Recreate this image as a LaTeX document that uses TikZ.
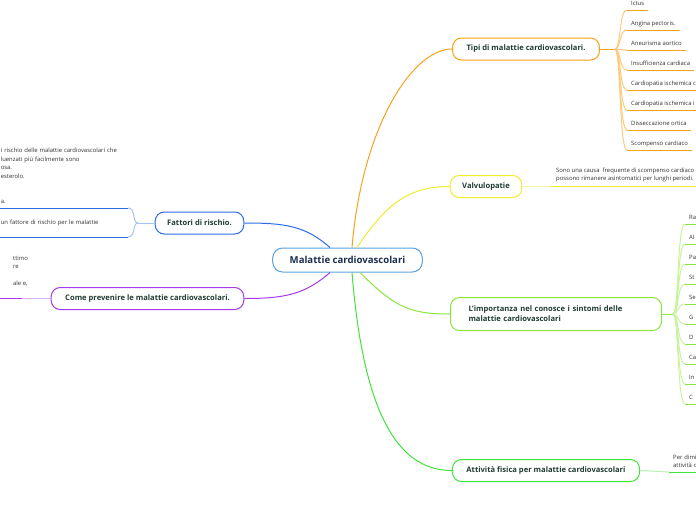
\documentclass[tikz,border=0pt]{standalone}
\usepackage{fontspec}
\setmainfont{Open Sans}
\usetikzlibrary{positioning}

\definecolor{orangeln}{HTML}{F8A21C}
\definecolor{orangelt}{HTML}{FCCB7E}
\definecolor{yellowln}{HTML}{F2EC2E}
\definecolor{yellowlt}{HTML}{F8F59A}
\definecolor{limeln}{HTML}{8CE53C}
\definecolor{limelt}{HTML}{C8F49E}
\definecolor{greenln}{HTML}{3FE53A}
\definecolor{greenlt}{HTML}{B4F5B0}
\definecolor{blueln}{HTML}{2E6CE6}
\definecolor{bluelt}{HTML}{A8C3F4}
\definecolor{purpleln}{HTML}{A53BEA}
\definecolor{purplelt}{HTML}{DAB0F6}
\definecolor{centreln}{HTML}{5BA3DF}
\definecolor{titletxt}{HTML}{1F3B33}
\definecolor{roottxt}{HTML}{1B2D4F}
\definecolor{smalltxt}{HTML}{333333}

\begin{document}
\begin{tikzpicture}[x=1pt,y=-1pt,
  topic/.style={draw, line width=1pt, rounded corners=9pt, fill=white,
    inner xsep=14pt, minimum height=22pt, text=titletxt,
    font=\bfseries\fontsize{7.6}{9.8}\selectfont},
  leaf/.style={anchor=south west, inner xsep=4pt, inner ysep=4pt,
    align=left, text=smalltxt, font=\fontsize{5.9}{8.5}\selectfont},
  branch/.style={line width=1pt}]
\useasboundingbox[fill=white] (0,0) rectangle (696,520);

% main topics
\node[topic, draw=centreln, text=roottxt, minimum height=24pt, inner xsep=17pt,
  rounded corners=10pt, font=\bfseries\fontsize{9.6}{12}\selectfont]
  (root) at (347.5,260) {Malattie cardiovascolari};
\node[topic, draw=orangeln] (tipi) at (526,49) {Tipi di malattie cardiovascolari.};
\node[topic, draw=yellowln, inner xsep=12pt] (valv) at (486,186.5) {Valvulopatie};
\node[topic, draw=limeln, minimum height=33pt, text width=175pt, align=left,
  inner xsep=18pt] (sint) at (556,314)
  {L’importanza nel conosce i sintomi delle\\malattie cardiovascolari};
\node[topic, draw=greenln] (fisica) at (546,470.5) {Attività fisica per malattie cardiovascolari};
\node[topic, draw=blueln, inner xsep=12pt] (fattori) at (199.5,223) {Fattori di rischio.};
\node[topic, draw=purpleln] (prev) at (147.5,298.5) {Come prevenire le malattie cardiovascolari.};

% root connectors
\draw[branch, orangeln] ([xshift=4.5pt]root.north) .. controls +(10,-120) and +(-40,0) .. (tipi.west);
\draw[branch, yellowln] ([xshift=9.5pt]root.north) .. controls +(30,-45) and +(-40,0) .. (valv.west);
\draw[branch, limeln] ([xshift=12.5pt]root.south) .. controls +(35,35) and +(-40,0) .. (sint.west);
\draw[branch, greenln] ([xshift=4.5pt]root.south) .. controls +(12,150) and +(-50,0) .. (fisica.west);
\draw[branch, blueln] ([xshift=-17.5pt]root.north) .. controls +(-25,-22) and +(40,0) .. (fattori.east);
\draw[branch, purpleln] ([xshift=-17.5pt]root.south) .. controls +(-25,22) and +(40,0) .. (prev.east);

% types
\coordinate (tipifork) at (615,49);
\draw[branch, orangeln] (tipi.east) -- (tipifork);
\foreach \txt [count=\i from 0] in {Ictus, Angina pectoris., Aneurisma aortico,
  Insufficienza cardiaca, Cardiopatia ischemica c, Cardiopatia ischemica i,
  Disseccazione ortica, Scompenso cardiaco} {
  \node[leaf, text depth=1.5pt, inner ysep=3pt] (tipo\i) at (627,{10+20*\i}) {\txt};
  \draw[branch, orangelt] (tipifork) .. controls +(6,0) and +(-8,0) .. (tipo\i.south west);
  \draw[branch, orangeln] (tipo\i.south west) -- (tipo\i.south east);
}

% valvulopatie
\node[leaf, inner xsep=6pt] (valvtxt) at (550,186.5)
  {Sono una causa~ frequente di scompenso cardiaco\\possono rimanere asintomatici per lunghi periodi.};
\draw[branch, yellowlt] (valv.east) -- (valvtxt.south west);
\draw[branch, yellowln] (valvtxt.south west) -- (valvtxt.south east);

% sintomi
\coordinate (sintfork) at (673,314);
\draw[branch, limeln] (sint.east) -- (sintfork);
\foreach \txt [count=\i from 0] in {Ra, Al, Pa, St, Se, G, D, Ca, In, C} {
  \node[leaf, text width=30pt, text depth=1.5pt, inner ysep=3pt] (sint\i) at (685,{224+20*\i}) {\txt};
  \draw[branch, limelt] (sintfork) .. controls +(6,0) and +(-8,0) .. (sint\i.south west);
  \draw[branch, limeln] (sint\i.south west) -- (sint\i.south east);
}

% attivita fisica
\node[leaf, text width=30pt] (fisicatxt) at (669,472) {Per dimi\\attività c};
\draw[branch, greenlt] (fisica.east) -- (fisicatxt.south west);
\draw[branch, greenln] (fisicatxt.south west) -- (fisicatxt.south east);

% fattori di rischio
\coordinate (fatfork) at (138,223);
\draw[branch, bluelt] (fattori.west) -- (fatfork);
\node[leaf, anchor=south east, text width=127pt, inner xsep=0pt] (fat1) at (128,208)
  {i rischio delle malattie cardiovascolari che\\luenzati più facilmente sono\\osa.\\esterolo.\\~\\~\\a.};
\node[leaf, anchor=south east, text width=127pt, inner xsep=0pt] (fat2) at (128,237)
  {un fattore di rischio per le malattie\\~};
\foreach \f in {fat1, fat2} {
  \draw[branch, bluelt] (fatfork) .. controls +(-6,0) and +(8,0) .. (\f.south east);
  \draw[branch, blueln] (\f.south east) -- ++(-130,0);
}

% prevenzione
\node[leaf, inner xsep=0pt] (prevtxt) at (13,298.5) {ttimo\\re\\~\\ale e,\\~};
\coordinate (prevjoin) at (22,298.5);
\draw[branch, purplelt] (prev.west) -- (prevjoin);
\draw[branch, purpleln] (prevjoin) -- ++(-24,0);
\end{tikzpicture}
\end{document}
